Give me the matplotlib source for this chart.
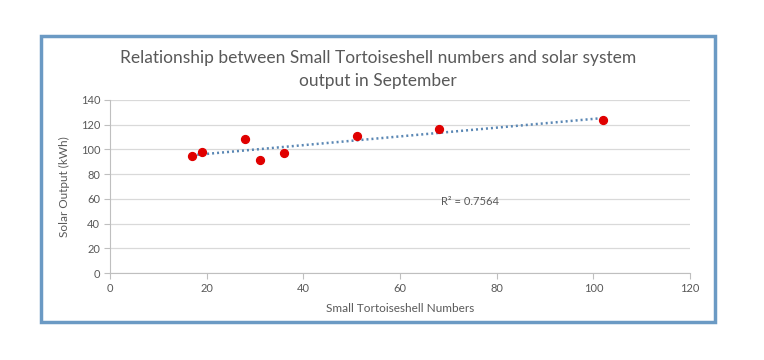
import numpy as np
import matplotlib.pyplot as plt
from matplotlib.patches import Rectangle

# data
tortoiseshell = [17, 19, 28, 31, 36, 51, 68, 102]
solar_output = [94.5, 97.6, 108.1, 91.2, 96.9, 110.5, 116.4, 123.8]
r_squared = 0.7564

xticks = [0, 20, 40, 60, 80, 100, 120]
yticks = [0, 20, 40, 60, 80, 100, 120, 140]

plt.rcParams['font.family'] = ['Lato', 'DejaVu Sans']
grey = '#595959'

fig = plt.figure(figsize=(7.64, 3.6), dpi=100)
ax = fig.add_axes([110 / 764, 1 - 273 / 360, 580 / 764, 173 / 360])

# trendline
coef = np.polyfit(tortoiseshell, solar_output, 1)
xs = np.array([min(tortoiseshell), max(tortoiseshell)])
ax.plot(xs, np.polyval(coef, xs), color='#5A87B4', lw=1.8, ls=(0, (0.8, 1.2)), zorder=2)

ax.scatter(tortoiseshell, solar_output, s=32, color='#E00000', zorder=3)

ax.set_xlim(0, 120)
ax.set_ylim(0, 140)
ax.set_xticks(xticks)
ax.set_yticks(yticks)
ax.grid(axis='y', color='#D9D9D9', lw=0.9)
ax.set_axisbelow(True)
for s in ['top', 'right']:
    ax.spines[s].set_visible(False)
for s in ['left', 'bottom']:
    ax.spines[s].set_color('#BFBFBF')
ax.tick_params(colors='#BFBFBF', labelcolor=grey, labelsize=8, length=4)
ax.tick_params(axis='y', pad=3)

ax.text(68.5, 58, 'R² = {:.4f}'.format(r_squared), fontsize=8, color=grey,
        ha='left', va='center')

ax.set_xlabel('Small Tortoiseshell Numbers', fontsize=8.5, color=grey, labelpad=6)
ax.set_ylabel('Solar Output (kWh)', fontsize=8.5, color=grey, labelpad=8)

fig.text(378 / 764, 1 - 69.5 / 360,
         'Relationship between Small Tortoiseshell numbers and solar system\noutput in September',
         ha='center', va='center', fontsize=12.5, color=grey, linespacing=1.6)

# blue chart border
fig.patches.append(Rectangle((41 / 764, 1 - 322 / 360), 674 / 764, 286 / 360,
                             transform=fig.transFigure, fill=False,
                             edgecolor='#6B9AC4', lw=2.5))

fig.savefig('out.png', dpi=100)
